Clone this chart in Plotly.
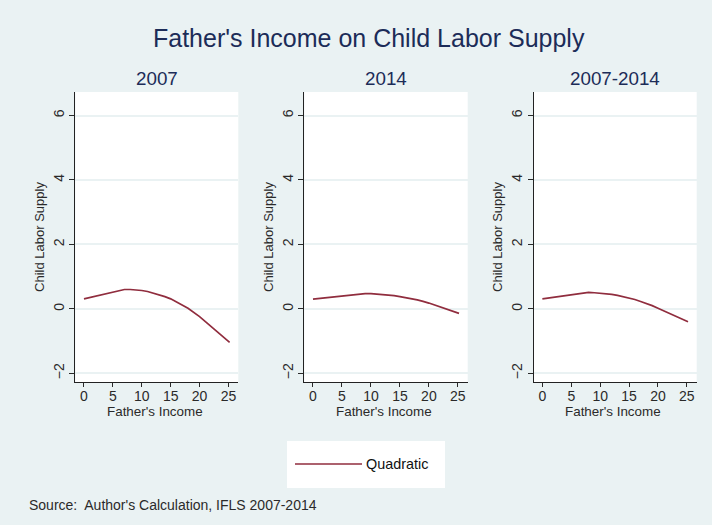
import plotly.graph_objects as go

# ---------------- data ----------------
panel_titles = ["2007", "2014", "2007-2014"]

x_2007 = [0, 7, 8, 9, 10, 11, 12, 13, 14, 15, 16, 17, 18, 20, 25.2]
y_2007 = [0.31, 0.60, 0.60, 0.59, 0.57, 0.54, 0.49, 0.44, 0.38, 0.31, 0.22, 0.13, 0.02, -0.24, -1.04]

x_2014 = [0, 8, 9, 10, 11, 12, 13, 14, 15, 16, 17, 18, 19, 20, 25.2]
y_2014 = [0.30, 0.47, 0.47, 0.47, 0.46, 0.45, 0.43, 0.41, 0.38, 0.35, 0.32, 0.28, 0.23, 0.18, -0.14]

x_all = [0, 7, 8, 9, 10, 11, 12, 13, 14, 15, 16, 17, 18, 19, 20, 25.2]
y_all = [0.31, 0.50, 0.51, 0.50, 0.49, 0.47, 0.45, 0.42, 0.38, 0.34, 0.29, 0.23, 0.17, 0.10, 0.02, -0.40]

x_ticks = [0, 5, 10, 15, 20, 25]
y_ticks = [-2, 0, 2, 4, 6]

series_name = "Quadratic"
main_title = "Father's Income on Child Labor Supply"
x_title = "Father's Income"
y_title = "Child Labor Supply"
source_note = "Source:  Author's Calculation, IFLS 2007-2014"

# ---------------- styling ----------------
W, H = 712, 525
BG = "#eaf2f3"
LINE = "#902d3e"
NAVY = "#1c2c58"
TXT = "#2a2a2a"
FONT = "Liberation Sans, Arial, sans-serif"

def px_x(p):
    return p / W

def px_y(p):
    return 1 - p / H

domains = [(75.3, 238.3), (304.3, 467.7), (533.7, 696.7)]
y_dom = [px_y(382), px_y(92)]

fig = go.Figure()
data = [(x_2007, y_2007), (x_2014, y_2014), (x_all, y_all)]
for i, (xs, ys) in enumerate(data):
    suffix = "" if i == 0 else str(i + 1)
    fig.add_trace(go.Scatter(
        x=xs, y=ys, mode="lines", name=series_name,
        line=dict(color=LINE, width=1.7, shape="linear"),
        xaxis="x" + suffix, yaxis="y" + suffix, showlegend=False,
    ))

layout = dict(
    width=W, height=H, autosize=False,
    margin=dict(l=0, r=0, t=0, b=0),
    paper_bgcolor=BG, plot_bgcolor="white",
    font=dict(family=FONT, color=TXT, size=13),
    showlegend=False,
)

for i, (l, r) in enumerate(domains):
    suffix = "" if i == 0 else str(i + 1)
    layout["xaxis" + suffix] = dict(
        domain=[px_x(l), px_x(r)], range=[-1.5, 26.7], anchor="y" + suffix,
        tickvals=x_ticks, ticks="outside", ticklen=4, tickcolor=TXT, tickwidth=1,
        ticklabelstandoff=-3,
        showline=True, linecolor="#222222", linewidth=1, showgrid=False, zeroline=False,
        tickfont=dict(size=14, color=TXT, family=FONT),
        fixedrange=True,
    )
    layout["yaxis" + suffix] = dict(
        domain=y_dom, range=[-2.27, 6.73], anchor="x" + suffix,
        tickvals=y_ticks, ticks="outside", ticklen=5, tickcolor=TXT, tickwidth=1,
        tickangle=-90,
        showline=True, linecolor="#222222", linewidth=1,
        showgrid=True, gridcolor=BG, gridwidth=1.5, zeroline=False,
        tickfont=dict(size=14, color=TXT, family=FONT),
        title=dict(text=y_title, standoff=3, font=dict(size=13, color=TXT, family=FONT)),
        fixedrange=True,
    )

annotations = [
    dict(text=main_title, x=px_x(369), y=px_y(38), xref="paper", yref="paper",
         xanchor="center", yanchor="middle", showarrow=False,
         font=dict(size=25, color=NAVY, family=FONT)),
    dict(text=source_note, x=px_x(27), y=px_y(505), xref="paper", yref="paper",
         xanchor="left", yanchor="middle", showarrow=False,
         font=dict(size=14, color=TXT, family=FONT)),
    dict(text=series_name, x=px_x(364), y=px_y(464), xref="paper", yref="paper",
         xanchor="left", yanchor="middle", showarrow=False,
         font=dict(size=14.4, color="#111111", family=FONT)),
]
for (l, r), t in zip(domains, panel_titles):
    annotations.append(dict(text=t, x=px_x((l + r) / 2), y=px_y(78), xref="paper", yref="paper",
                            xanchor="center", yanchor="middle", showarrow=False,
                            font=dict(size=18.8, color=NAVY, family=FONT)))
    # x-axis title placed under each panel
    annotations.append(dict(text=x_title, x=px_x((l + r) / 2 - 2), y=px_y(411), xref="paper", yref="paper",
                            xanchor="center", yanchor="middle", showarrow=False,
                            font=dict(size=13.4, color=TXT, family=FONT)))

shapes = [
    dict(type="rect", xref="paper", yref="paper",
         x0=px_x(287), x1=px_x(445), y0=px_y(488), y1=px_y(441),
         fillcolor="white", line=dict(width=0), layer="below"),
    dict(type="line", xref="paper", yref="paper",
         x0=px_x(295), x1=px_x(362), y0=px_y(464), y1=px_y(464),
         line=dict(color=LINE, width=1.6)),
]

layout["annotations"] = annotations
layout["shapes"] = shapes
fig.update_layout(**layout)

fig.write_html("out.html")
